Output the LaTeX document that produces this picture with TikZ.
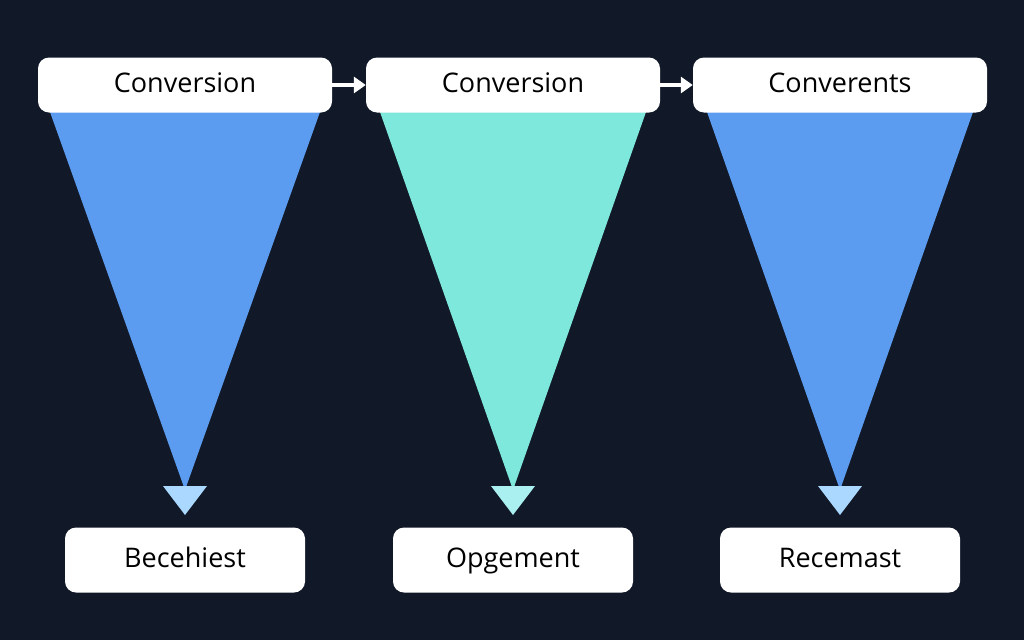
\documentclass[tikz,border=0pt]{standalone}
\usepackage{fontspec}
\setsansfont{Open Sans}
\usetikzlibrary{arrows.meta}
\definecolor{bg}{RGB}{17,24,39}
\definecolor{fblue}{RGB}{92,156,240}
\definecolor{fteal}{RGB}{126,232,220}
\definecolor{tip}{RGB}{170,216,255}
\definecolor{tipt}{RGB}{170,240,240}
\begin{document}
\begin{tikzpicture} [
    x=1pt, y=-1pt,
    f/.style={draw=white,line width=4pt,-{Triangle[length=12pt,width=16pt]}},
    head/.style={
        fill=white, rounded corners=11pt,
        minimum width=294pt, minimum height=55pt,
        text height=20pt, text depth=6pt,
        font=\sffamily\fontsize{27}{30}\selectfont
    },
    foot/.style={
        fill=white, rounded corners=11pt,
        minimum width=240pt, minimum height=65pt,
        text height=20pt, text depth=6pt,
        font=\sffamily\fontsize{27}{30}\selectfont
    }
]
\fill [bg] (0,0) rectangle (1024,640);

% funnels
\fill [fblue] (50,112) -- (320,112) -- (185,490) -- cycle;
\fill [fteal] (380,112) -- (646,112) -- (513,490) -- cycle;
\fill [fblue] (707,112) -- (973,112) -- (840,490) -- cycle;
\fill [tip] (163,486) -- (207,486) -- (185,515) -- cycle;
\fill [tipt] (491,486) -- (535,486) -- (513,515) -- cycle;
\fill [tip] (818,486) -- (862,486) -- (840,515) -- cycle;

% boxes
\node [head] (h1) at (185,85) {Conversion};
\node [head] (h2) at (513,85) {Conversion};
\node [head] (h3) at (840,85) {Converents};
\node [foot] (b1) at (185,560) {Becehiest};
\node [foot] (b2) at (513,560) {Opgement};
\node [foot] (b3) at (840,560) {Recemast};

\draw [f] (h1.east) -- (h2.west);
\draw [f] (h2.east) -- (h3.west);
\end{tikzpicture}
\end{document}
